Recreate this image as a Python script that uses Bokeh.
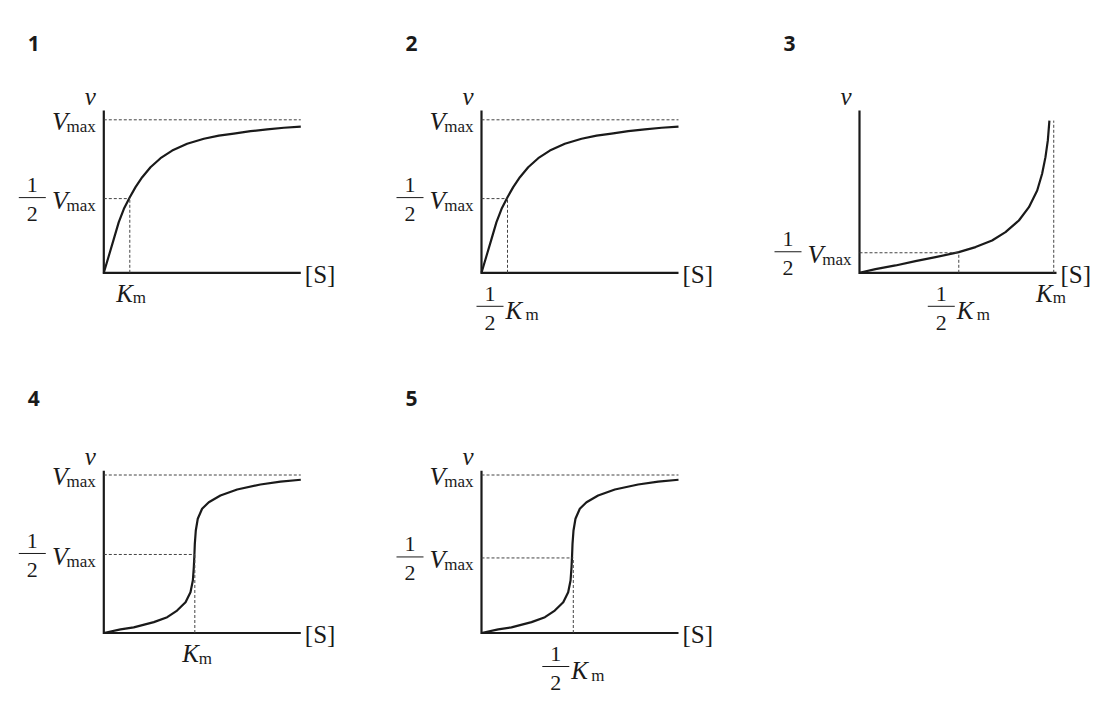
from bokeh.plotting import figure
from bokeh.models import Range1d
from bokeh.layouts import column, row
from bokeh.embed import file_html
from bokeh.resources import INLINE
from bokeh.core.properties import value

# ---------------- data (S: fraction of the [S] axis length, v: fraction of Vmax) -------------
panel_numbers = ["1", "2", "3", "4", "5"]

# hyperbolic (Michaelis-Menten type) curve, panels 1 and 2
hyper_s = [0.0, 0.026, 0.051, 0.076, 0.102, 0.132, 0.161, 0.195, 0.237, 0.288, 0.347,
           0.423, 0.508, 0.584, 0.660, 0.745, 0.829, 0.914, 1.0]
hyper_v = [0.0, 0.113, 0.222, 0.331, 0.418, 0.494, 0.560, 0.625, 0.690, 0.749, 0.799,
           0.843, 0.876, 0.897, 0.910, 0.926, 0.937, 0.948, 0.956]

# steeply rising curve, panel 3
steep_s = [0.0, 0.081, 0.183, 0.284, 0.386, 0.504, 0.589, 0.673, 0.741, 0.809, 0.860,
           0.902, 0.927, 0.944, 0.956, 0.964]
steep_v = [0.0, 0.024, 0.048, 0.076, 0.102, 0.135, 0.168, 0.211, 0.266, 0.342, 0.429,
           0.538, 0.647, 0.756, 0.865, 0.995]

# sigmoid curve, panels 4 and 5
sig_s = [0.0, 0.085, 0.152, 0.186, 0.254, 0.322, 0.372, 0.415, 0.440, 0.452, 0.457,
         0.460, 0.462, 0.467, 0.477, 0.499, 0.533, 0.592, 0.677, 0.795, 0.897, 1.0]
sig_v = [0.0, 0.023, 0.036, 0.047, 0.069, 0.100, 0.142, 0.195, 0.258, 0.332, 0.417,
         0.497, 0.564, 0.649, 0.723, 0.786, 0.828, 0.870, 0.908, 0.940, 0.958, 0.970]

# guide levels
vmax_level = 1.0
half_v = [0.485, 0.485, 0.131, 0.497, 0.475]      # the "1/2 Vmax" dashed level per panel
km_mark = [0.132, 0.132, 0.504, 0.462, 0.466]     # S of the vertical dashed line (Km or 1/2 Km)
km_full_p3 = 0.986                                # Km line in panel 3
km_top_p3 = 0.995

# ---------------- styles ----------------
SERIF = value("Liberation Serif, DejaVu Serif, serif")
SANS = value("Noto Sans")
INK = "#1a1a1a"
DASH_COL = "#444444"
BASE_FIX = 0.35   # empirical correction of the rendered baseline (fraction of font size)


def make_panel(idx, geo, ytop, cs, cv):
    L, T, W, H, ox, oy, xpx, ypx = geo
    oxr, oyr = ox - L, oy - T
    p = figure(width=W, height=H, output_backend="svg", toolbar_location=None,
               x_range=Range1d(-oxr / xpx, (W - oxr) / xpx),
               y_range=Range1d(-(H - oyr) / ypx, oyr / ypx),
               x_axis_location=None, y_axis_location=None,
               min_border=0, min_border_left=0, min_border_right=0,
               min_border_top=0, min_border_bottom=0,
               outline_line_color=None, background_fill_color="white",
               border_fill_color="white")
    p.grid.visible = False

    def at(s, v, dxp=0.0, dyp=0.0):
        return s + dxp / xpx, v - dyp / ypx

    def txt(t, s, v, dxp, dyp, size, font=SERIF, style="normal", align="left"):
        x, y = at(s, v, dxp, dyp - BASE_FIX * size)
        p.text(x=[x], y=[y], text=[t], text_font=font, text_font_size=f"{size}px",
               text_font_style=style, text_align=align, text_baseline="alphabetic",
               text_color=INK)

    def bar(s, v, dx0, dx1, dyp):
        x0, y0 = at(s, v, dx0, dyp)
        x1, _ = at(s, v, dx1, dyp)
        p.segment(x0=[x0], y0=[y0], x1=[x1], y1=[y0], line_color=INK, line_width=1)

    p._txt, p._bar = txt, bar
    # axes
    p.line(x=[0, 0, 1], y=[ytop, 0, 0], line_color=INK, line_width=2.2, line_join="miter")
    # curve
    p.line(x=cs, y=cv, line_color=INK, line_width=2.2, line_join="round")
    # panel number and axis names
    txt(panel_numbers[idx], 0, ytop, -76, -60 if idx < 3 else -65, 21, font=SANS, style="bold")
    txt("v", 0, ytop, -8, -5, 25, style="italic", align="right")
    txt("[S]", 1, 0, 4, 10, 25)
    return p


def dashed(p, xs0, ys0, xs1, ys1):
    p.segment(x0=xs0, y0=ys0, x1=xs1, y1=ys1, line_color=DASH_COL, line_width=1,
              line_dash="3 2")


def vmax_label(p, level, half=False):
    p._txt("max", 0, level, -8, 12.5, 17, align="right")
    p._txt("V", 0, level, -36, 11, 26, style="italic", align="right")
    if half:
        p._txt("1", 0, level, -71.5, -6, 22, align="center")
        p._bar(0, level, -85, -58, -1)
        p._txt("2", 0, level, -71.5, 23, 22, align="center")


def km_label(p, s, shift):
    p._txt("K", s, 0, shift, 29.5, 25, style="italic", align="right")
    p._txt("m", s, 0, shift, 31, 17, align="left")


def half_km_label(p, s):
    p._txt("1", s, 0, -17.5, 28.5, 22, align="center")
    p._bar(s, 0, -31, -4, 33.5)
    p._txt("2", s, 0, -17.5, 57.5, 22, align="center")
    p._txt("K", s, 0, -2, 46.5, 25, style="italic", align="left")
    p._txt("m", s, 0, 18, 48, 17, align="left")


# geometry: fig left, fig top, fig width, fig height, origin x, origin y, px per S unit, px per v unit
G = [
    (0, 0, 380, 355, 103.3, 272.3, 197, 153),
    (380, 0, 378, 355, 481.0, 272.3, 197, 153),
    (758, 0, 345, 355, 859.0, 272.3, 197, 153),
    (0, 355, 380, 352, 103.3, 632.5, 197, 158),
    (380, 355, 378, 352, 481.0, 632.5, 197, 158),
]
YTOP_TOP = 1.061
YTOP_BOT = 1.027

# panel 1
p1 = make_panel(0, G[0], YTOP_TOP, hyper_s, hyper_v)
dashed(p1, [0, 0, km_mark[0]], [vmax_level, half_v[0], 0],
       [1, km_mark[0], km_mark[0]], [vmax_level, half_v[0], half_v[0]])
vmax_label(p1, vmax_level)
vmax_label(p1, half_v[0], half=True)
km_label(p1, km_mark[0], 3)

# panel 2
p2 = make_panel(1, G[1], YTOP_TOP, hyper_s, hyper_v)
dashed(p2, [0, 0, km_mark[1]], [vmax_level, half_v[1], 0],
       [1, km_mark[1], km_mark[1]], [vmax_level, half_v[1], half_v[1]])
vmax_label(p2, vmax_level)
vmax_label(p2, half_v[1], half=True)
half_km_label(p2, km_mark[1])

# panel 3
p3 = make_panel(2, G[2], YTOP_TOP, steep_s, steep_v)
dashed(p3, [0, km_mark[2], km_full_p3], [half_v[2], 0, 0],
       [km_mark[2], km_mark[2], km_full_p3], [half_v[2], half_v[2], km_top_p3])
vmax_label(p3, half_v[2], half=True)
half_km_label(p3, km_mark[2])
km_label(p3, km_full_p3, -1)

# panel 4
p4 = make_panel(3, G[3], YTOP_BOT, sig_s, sig_v)
dashed(p4, [0, 0, km_mark[3]], [vmax_level, half_v[3], 0],
       [1, km_mark[3], km_mark[3]], [vmax_level, half_v[3], half_v[3]])
vmax_label(p4, vmax_level)
vmax_label(p4, half_v[3], half=True)
km_label(p4, km_mark[3], 4)

# panel 5
p5 = make_panel(4, G[4], YTOP_BOT, sig_s, sig_v)
dashed(p5, [0, 0, km_mark[4]], [vmax_level, half_v[4], 0],
       [1, km_mark[4], km_mark[4]], [vmax_level, half_v[4], half_v[4]])
vmax_label(p5, vmax_level)
vmax_label(p5, half_v[4], half=True)
half_km_label(p5, km_mark[4])

layout = column(row(p1, p2, p3), row(p4, p5))
open("out.html", "w").write(file_html(layout, INLINE))
